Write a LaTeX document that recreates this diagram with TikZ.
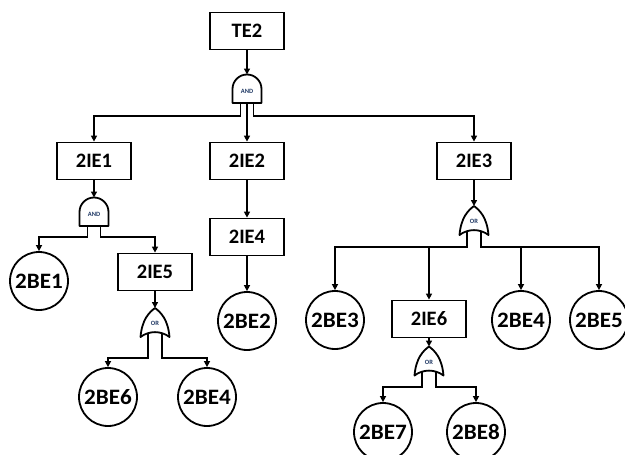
\documentclass[tikz,border=0pt]{standalone}
\usepackage{fontspec}
\setmainfont{Carlito}
\newfontfamily\circfont[FakeStretch=1.05]{Carlito}
\usepackage{xcolor}
\definecolor{gateLabel}{HTML}{1F3864}
\usetikzlibrary{arrows.meta}

\tikzset{
  box/.style={draw, line width=1.8pt, minimum width=74pt, minimum height=37pt, inner sep=0pt,
    font=\bfseries\fontsize{20.5}{24}\selectfont},
  leaf/.style={draw, circle, line width=1.8pt, minimum size=58pt, inner sep=0pt,
    font=\circfont\bfseries\fontsize{22}{26}\selectfont},
  conn/.style={line width=1.8pt, -{Triangle[length=6pt,width=6pt]}},
  gateline/.style={line width=1.8pt, fill=white, line join=round},
  gatetext/.style={font=\bfseries\fontsize{6.5}{7}\selectfont, text=gateLabel, inner sep=0pt},
  andgate/.pic={
    \draw[gateline] (-14.5,14) -- (-14.5,0) .. controls (-14.5,-8) and (-8,-14.5) .. (0,-14.5)
      .. controls (8,-14.5) and (14.5,-8) .. (14.5,0) -- (14.5,14) -- cycle;
    \node[gatetext] (-c) at (0,2) {AND};
    \coordinate (-in) at (0,-14.5);
    \coordinate (-l) at (-6.5,14);
    \coordinate (-m) at (0,14);
    \coordinate (-r) at (6.5,14);
  },
  orgate/.pic={
    \draw[gateline] (0,-14.5) .. controls (6,-10) and (13,-3) .. (14.5,14.5)
      .. controls (6,8) and (-6,8) .. (-14.5,14.5)
      .. controls (-13,-3) and (-6,-10) .. (0,-14.5) -- cycle;
    \node[gatetext] (-c) at (0,1) {OR};
    \coordinate (-in) at (0,-14.5);
    \coordinate (-l) at (-7,10.5);
    \coordinate (-r) at (7,10.5);
  }
}

\begin{document}
\begin{tikzpicture}[x=1pt, y=-1pt]
  \useasboundingbox (0,0) rectangle (625,455);

  \node[box] (te2) at (247,31) {TE2};
  \pic (g1) at (247,89) {andgate};

  \node[box] (ie1) at (94,161) {2IE1};
  \node[box] (ie2) at (247,161) {2IE2};
  \node[box] (ie3) at (474,161) {2IE3};

  \pic (g2) at (94,212) {andgate};
  \node[leaf] (be1) at (39,281) {2BE1};
  \node[box] (ie5) at (155,272) {2IE5};
  \pic (g3) at (155,322.5) {orgate};
  \node[leaf] (be6) at (108,397) {2BE6};
  \node[leaf] (be4a) at (207,397) {2BE4};

  \node[box] (ie4) at (247,237) {2IE4};
  \node[leaf] (be2) at (247,321) {2BE2};

  \pic (g4) at (474,220.5) {orgate};
  \node[leaf] (be3) at (335,320) {2BE3};
  \node[box] (ie6) at (429,319) {2IE6};
  \node[leaf] (be4b) at (521,320) {2BE4};
  \node[leaf] (be5) at (599,320) {2BE5};
  \pic (g5) at (429,361) {orgate};
  \node[leaf] (be7) at (383,432) {2BE7};
  \node[leaf] (be8) at (476,432) {2BE8};

  \draw[conn] (te2.south) -- (g1-in);
  \draw[conn] (g1-l) -- ++(0,13) -| (ie1.north);
  \draw[conn] (g1-m) -- (ie2.north);
  \draw[conn] (g1-r) -- ++(0,13) -| (ie3.north);

  \draw[conn] (ie1.south) -- (g2-in);
  \draw[conn] (g2-l) -- ++(0,11) -| (be1.north);
  \draw[conn] (g2-r) -- ++(0,11) -| (ie5.north);
  \draw[conn] (ie5.south) -- (g3-in);
  \draw[conn] (g3-l) -- ++(0,25) -| (be6.north);
  \draw[conn] (g3-r) -- ++(0,25) -| (be4a.north);

  \draw[conn] (ie2.south) -- (ie4.north);
  \draw[conn] (ie4.south) -- (be2.north);

  \draw[conn] (ie3.south) -- (g4-in);
  \draw[conn] (g4-l) -- ++(0,16) coordinate (bus4l) -| (be3.north);
  \draw[conn] (bus4l -| ie6.north) -- (ie6.north);
  \draw[conn] (g4-r) -- ++(0,16) coordinate (bus4r) -| (be5.north);
  \draw[conn] (bus4r -| be4b.north) -- (be4b.north);
  \draw[conn] (ie6.south) -- (g5-in);
  \draw[conn] (g5-l) -- ++(0,15.5) -| (be7.north);
  \draw[conn] (g5-r) -- ++(0,15.5) -| (be8.north);
\end{tikzpicture}
\end{document}
